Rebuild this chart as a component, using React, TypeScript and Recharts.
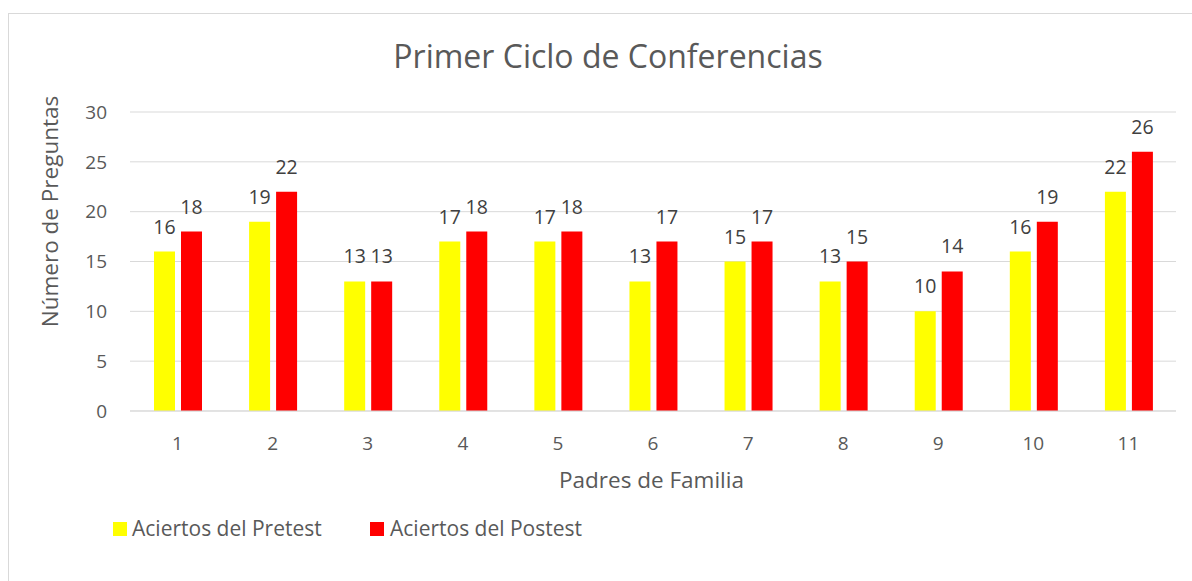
import React from 'react';
import { BarChart, Bar, XAxis, YAxis, CartesianGrid, LabelList } from 'recharts';

const CATEGORIES = ['1', '2', '3', '4', '5', '6', '7', '8', '9', '10', '11'];
const PRETEST = [16, 19, 13, 17, 17, 13, 15, 13, 10, 16, 22];
const POSTEST = [18, 22, 13, 18, 18, 17, 17, 15, 14, 19, 26];
const Y_TICKS = [0, 5, 10, 15, 20, 25, 30];

const SERIES = [
  { key: 'pretest', name: 'Aciertos del Pretest', color: '#FFFF00' },
  { key: 'postest', name: 'Aciertos del Postest', color: '#FF0000' },
];

const data = CATEGORIES.map((name, i) => ({ name, pretest: PRETEST[i], postest: POSTEST[i] }));

const FONT = '"Open Sans", sans-serif';
const TEXT = '#595959';
const GRID = '#D9D9D9';

const App: React.FC = () => {
  return (
    <div style={{ position: 'absolute', left: 0, top: 0, width: 1192, height: 581, overflow: 'hidden', background: '#fff', fontFamily: FONT }}>
      <BarChart
        width={1192}
        height={581}
        data={data}
        margin={{ top: 112, right: 16, bottom: 140, left: 90 }}
        barGap={6}
        barSize={21}
      >
        <CartesianGrid vertical={false} stroke={GRID} />
        <XAxis
          dataKey="name"
          height={30}
          axisLine={{ stroke: GRID }}
          tickLine={false}
          tickSize={0}
          tickMargin={26}
          tick={{ fill: TEXT, fontSize: 19, fontFamily: FONT }}
        />
        <YAxis
          width={40}
          domain={[0, 30]}
          ticks={Y_TICKS}
          axisLine={false}
          tickLine={false}
          tickSize={0}
          tickMargin={23}
          tick={{ fill: TEXT, fontSize: 19, fontFamily: FONT }}
        />
        {SERIES.map((s) => (
          <Bar key={s.key} dataKey={s.key} name={s.name} fill={s.color} isAnimationActive={false}>
            <LabelList dataKey={s.key} position="top" offset={18} fill="#404040" fontSize={19.5} fontFamily={FONT} />
          </Bar>
        ))}
      </BarChart>

      {/* title, axis titles, legend and frame */}
      <svg width={1192} height={581} style={{ position: 'absolute', left: 0, top: 0, pointerEvents: 'none' }}>
        <rect x={8.5} y={13.5} width={1200} height={600} fill="none" stroke={GRID} />
        <text x={608} y={68} textAnchor="middle" fill={TEXT} fontSize={32} fontFamily={FONT}>
          Primer Ciclo de Conferencias
        </text>
        <text x={58} y={211.5} textAnchor="middle" fill={TEXT} fontSize={22.5} fontFamily={FONT} transform="rotate(-90, 58, 211.5)">
          Número de Preguntas
        </text>
        <text x={651.5} y={488} textAnchor="middle" fill={TEXT} fontSize={22.5} fontFamily={FONT}>
          Padres de Familia
        </text>
        <rect x={113} y={522} width={14} height={14} fill={SERIES[0].color} />
        <text x={132} y={536} fill={TEXT} fontSize={21} fontFamily={FONT}>{SERIES[0].name}</text>
        <rect x={370} y={522} width={14} height={14} fill={SERIES[1].color} />
        <text x={390} y={536} fill={TEXT} fontSize={21} fontFamily={FONT}>{SERIES[1].name}</text>
      </svg>
    </div>
  );
};

export default App;
